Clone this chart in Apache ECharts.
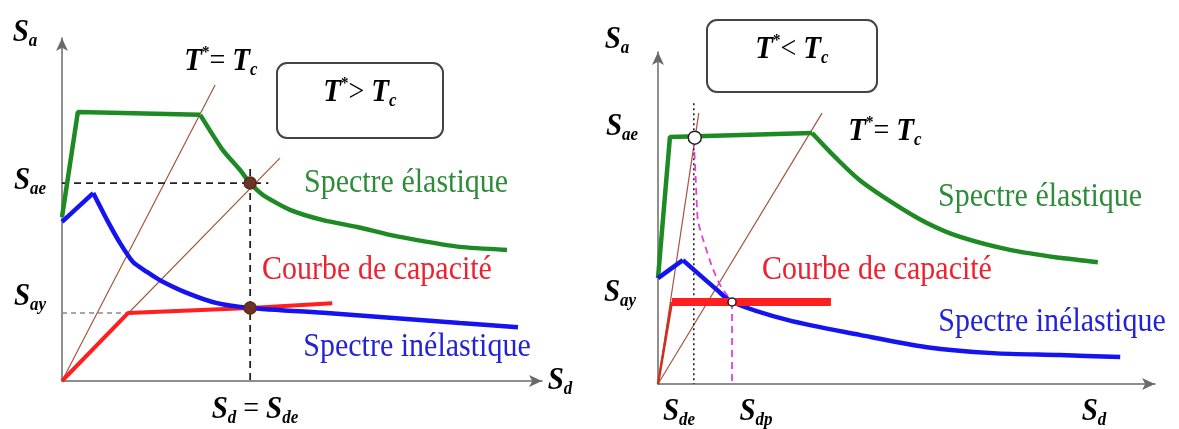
<!DOCTYPE html>
<html>
<head>
<meta charset="utf-8">
<title>Spectre élastique / inélastique</title>
<script src="https://cdn.jsdelivr.net/npm/echarts@6/dist/echarts.min.js"></script>
<style>
    html, body {margin: 0; padding: 0; background: #fff;}
    #charts {width: 1179px; height: 429px;}
</style>
</head>
<body>
<div id="charts"></div>
<script>

// ---- cas T* > Tc (gauche) ----
var leftElasticRise = [[0, 4.78], [0.33, 7.84], [2.88, 7.76]];
var leftElasticDecay = [[2.88, 7.76], [3.35, 6.73], [3.71, 6.15], [3.92, 5.77], [4.19, 5.42], [4.75, 4.99],
    [5.44, 4.69], [6.15, 4.49], [6.83, 4.26], [7.55, 4.07], [8.29, 3.91], [9.27, 3.82]];
var leftInelasticRise = [[0, 4.64], [0.65, 5.48]];
var leftInelasticDecay = [[0.65, 5.48], [0.94, 4.69], [1.21, 4.02], [1.48, 3.47], [1.77, 3.18], [2.04, 2.94],
    [2.60, 2.57], [3.23, 2.27], [3.92, 2.13], [5.52, 1.98], [6.90, 1.84], [8.29, 1.69], [9.50, 1.57]];
var leftCapacity = [[0, 0], [1.375, 1.98], [3.92, 2.13], [5.63, 2.27]];
var leftPeriodTc = [[0, 0], [3.19, 8.63]];
var leftPeriodT = [[0, 0], [4.54, 6.50]];
var leftSaeGuide = [[0, 5.77], [4.30, 5.77]];
var leftSdeGuide = [[3.92, 6.18], [3.92, 0]];
var leftSayGuide = [[0, 1.98], [1.375, 1.98]];
var leftPoints = [[3.92, 5.77], [3.92, 2.13]];

// ---- cas T* < Tc (droite) ----
var rightElasticRise = [[0, 3.19], [0.24, 7.44], [3.10, 7.56]];
var rightElasticDecay = [[3.10, 7.56], [3.58, 6.81], [4.06, 6.14], [4.73, 5.45],
    [5.41, 4.85], [6.08, 4.43], [7.08, 4.04], [8.09, 3.80], [8.85, 3.67]];
var rightInelasticRise = [[0, 3.19], [0.50, 3.73]];
var rightInelasticDecay = [[0.50, 3.73], [1.19, 2.83], [1.49, 2.47], [2.60, 1.93], [4.06, 1.48],
    [5.41, 1.11], [6.74, 0.93], [8.09, 0.87], [9.30, 0.81]];
var rightCapacityElastic = [[0, 0], [0.28, 2.47]];
var rightCapacityPlastic = [[0.28, 2.47], [3.48, 2.47]];
var rightPeriodT = [[0, 0], [0.82, 8.16]];
var rightPeriodTc = [[0, 0], [3.30, 8.16]];
var rightSdeGuide = [[0.72, 8.46], [0.72, 0]];
var rightEqualArea = [[0.72, 7.35], [0.76, 6.14], [0.80, 4.94], [0.91, 4.34], [1.09, 3.52], [1.25, 2.98], [1.49, 2.47]];
var rightSdpGuide = [[1.49, 2.47], [1.49, 0]];
var rightPointTop = [[0.74, 7.42]];
var rightPointBottom = [[1.49, 2.47]];


var chart = echarts.init(document.getElementById('charts'));

var MATH_FONT = 'Liberation Serif';
var GREEN = '#1e8a24';
var BLUE = '#1414f0';
var RED = '#ff1f1f';
var BROWN = '#a3553f';
var INK = '#1a1a1a';

var mathRich = {
    m: {fontSize: 29, lineHeight: 32, fontFamily: MATH_FONT, fontStyle: 'italic', fontWeight: 'bold', color: INK},
    sub: {fontSize: 17, lineHeight: 17, fontFamily: MATH_FONT, fontStyle: 'italic', fontWeight: 'bold', color: INK, verticalAlign: 'bottom'},
    sup: {fontSize: 15, lineHeight: 15, fontFamily: MATH_FONT, fontWeight: 'bold', color: INK, verticalAlign: 'top'},
    op: {fontSize: 28, lineHeight: 32, fontFamily: MATH_FONT, color: INK}
};

function mathText(x, y, text) {
    return {
        type: 'text',
        x: x,
        y: y,
        scaleY: 1.1,
        z: 100,
        style: {text: text, rich: mathRich, align: 'center', verticalAlign: 'middle'}
    };
}

function plainText(x, y, text, color) {
    return {
        type: 'text',
        x: x,
        y: y,
        scaleY: 1.15,
        z: 100,
        style: {
            text: text,
            fill: color,
            font: '30px "Liberation Serif"',
            align: 'center',
            verticalAlign: 'middle'
        }
    };
}

function box(x, y, w, h) {
    return {
        type: 'rect',
        z: 90,
        shape: {x: x, y: y, width: w, height: h, r: 10},
        style: {fill: '#fff', stroke: '#444', lineWidth: 2}
    };
}

function axisPair(index) {
    var base = {
        type: 'value',
        gridIndex: index,
        min: 0,
        max: 10,
        axisLine: {
            show: true,
            symbol: ['none', 'arrow'],
            symbolSize: [9, 13],
            lineStyle: {color: '#6a6a6a', width: 1.5}
        },
        axisTick: {show: false},
        axisLabel: {show: false},
        splitLine: {show: false}
    };
    return [base, echarts.util.clone(base)];
}

function line(gridIndex, data, color, width, extra) {
    var s = {
        type: 'line',
        xAxisIndex: gridIndex,
        yAxisIndex: gridIndex,
        data: data,
        showSymbol: false,
        silent: true,
        animation: false,
        lineStyle: {color: color, width: width}
    };
    extra = extra || {};
    if (extra.type) {
        s.lineStyle.type = extra.type;
    }
    if (extra.smooth) {
        s.smooth = extra.smooth;
    }
    return s;
}

function dots(gridIndex, data, size, fill, stroke) {
    return {
        type: 'scatter',
        xAxisIndex: gridIndex,
        yAxisIndex: gridIndex,
        data: data,
        symbolSize: size,
        silent: true,
        animation: false,
        z: 20,
        itemStyle: {color: fill, borderColor: stroke, borderWidth: 1.5, opacity: 1}
    };
}

var leftAxes = axisPair(0);
var rightAxes = axisPair(1);

var option = {
    backgroundColor: '#fff',
    animation: false,
    grid: [
        {left: 62, top: 38, width: 480, height: 343},
        {left: 658, top: 52, width: 497, height: 332}
    ],
    xAxis: [leftAxes[0], rightAxes[0]],
    yAxis: [leftAxes[1], rightAxes[1]],
    series: [
        // gauche
        line(0, leftPeriodTc, BROWN, 1.2),
        line(0, leftPeriodT, BROWN, 1.2),
        line(0, leftSaeGuide, '#222', 1.8, {type: [7, 5]}),
        line(0, leftSdeGuide, '#222', 1.8, {type: [7, 5]}),
        line(0, leftSayGuide, '#8a8a8a', 1.5, {type: [5, 4]}),
        line(0, leftElasticRise, GREEN, 4.5),
        line(0, leftElasticDecay, GREEN, 4.5, {smooth: 0.2}),
        line(0, leftCapacity, RED, 4),
        line(0, leftInelasticRise, BLUE, 4.5),
        line(0, leftInelasticDecay, BLUE, 4.5, {smooth: 0.2}),
        dots(0, leftPoints, 12, '#6b3525', '#5a2a1c'),

        // droite
        line(1, rightPeriodT, BROWN, 1.2),
        line(1, rightPeriodTc, BROWN, 1.2),
        line(1, rightSdeGuide, '#222', 1.6, {type: [2, 3]}),
        line(1, rightEqualArea, '#e040e0', 1.8, {type: [7, 5], smooth: 0.15}),
        line(1, rightSdpGuide, '#e040e0', 1.8, {type: [7, 5]}),
        line(1, rightElasticRise, GREEN, 4.5),
        line(1, rightElasticDecay, GREEN, 4.5, {smooth: 0.3}),
        line(1, rightInelasticRise, BLUE, 4.5),
        line(1, rightInelasticDecay, BLUE, 4.5, {smooth: 0.3}),
        line(1, rightCapacityElastic, '#d0301c', 2.5),
        line(1, rightCapacityPlastic, RED, 8),
        dots(1, rightPointTop, 13, '#fff', '#222'),
        dots(1, rightPointBottom, 8, '#fff', '#222')
    ],
    graphic: [
        // gauche
        mathText(25, 33, '{m|S}{sub|a}'),
        mathText(221, 62, '{m|T}{sup|*}{op|= }{m|T}{sub|c}'),
        box(277, 63, 166, 75),
        mathText(360, 93, '{m|T}{sup|*}{op|> }{m|T}{sub|c}'),
        mathText(30, 181, '{m|S}{sub|ae}'),
        mathText(30, 297, '{m|S}{sub|ay}'),
        mathText(560, 381, '{m|S}{sub|d}'),
        mathText(255, 410, '{m|S}{sub|d}{op| = }{m|S}{sub|de}'),
        plainText(406, 183, 'Spectre élastique', '#2e8b3a'),
        plainText(377, 270, 'Courbe de capacité', '#ec2230'),
        plainText(417, 347, 'Spectre inélastique', '#2222d8'),

        // droite
        mathText(617, 40, '{m|S}{sub|a}'),
        box(707, 20, 170, 72),
        mathText(792, 50, '{m|T}{sup|*}{op|< }{m|T}{sub|c}'),
        mathText(622, 127, '{m|S}{sub|ae}'),
        mathText(885, 132, '{m|T}{sup|*}{op|= }{m|T}{sub|c}'),
        mathText(620, 293, '{m|S}{sub|ay}'),
        mathText(679, 412, '{m|S}{sub|de}'),
        mathText(756, 412, '{m|S}{sub|dp}'),
        mathText(1094, 412, '{m|S}{sub|d}'),
        plainText(1040, 197, 'Spectre élastique', '#2e8b3a'),
        plainText(877, 270, 'Courbe de capacité', '#ec2230'),
        plainText(1052, 322, 'Spectre inélastique', '#2222d8')
    ]
};

chart.setOption(option);

</script>
</body>
</html>
